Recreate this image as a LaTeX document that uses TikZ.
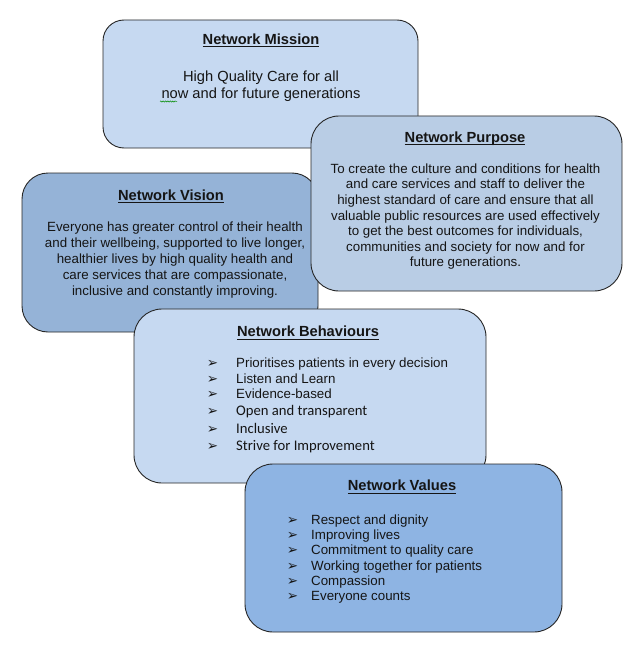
\documentclass[tikz,border=0pt]{standalone}
\usepackage{fontspec}
\setmainfont{Liberation Sans}
\newfontfamily\calibrifont{Carlito}
\newfontfamily\symfont{DejaVu Sans}
\usetikzlibrary{decorations.pathmorphing}
\newsavebox{\hulbox}
\newcommand{\hul}[1]{\sbox{\hulbox}{#1}\rlap{\rule[-2.9pt]{\wd\hulbox}{1.1pt}}\usebox{\hulbox}}
\definecolor{cMission}{HTML}{C6D9F1}
\definecolor{cPurpose}{HTML}{B9CDE5}
\definecolor{cVision}{HTML}{95B3D7}
\definecolor{cBehav}{HTML}{C6D9F1}
\definecolor{cValues}{HTML}{8EB4E3}
\definecolor{cText}{HTML}{151515}
\newcommand{\bul}{{\symfont\fontsize{13.5}{13.5}\selectfont ➢}}
\begin{document}
\begin{tikzpicture}[x=1pt,y=-1pt,
  card/.style={draw=black!85, line width=0.9pt, rectangle, inner sep=0pt},
  head/.style={anchor=base, inner sep=0pt, text=cText, font=\fontsize{14.67}{17}\selectfont\bfseries},
  bodytext/.style={anchor=base, inner sep=0pt, align=center, text=cText},
  item/.style={anchor=base west, inner sep=0pt, text=cText, font=\fontsize{13.33}{15.5}\selectfont},
  citem/.style={anchor=base west, inner sep=0pt, text=cText, font=\calibrifont\fontsize{14.67}{17.8}\selectfont},
  spell/.style={draw=green!55!black, line width=0.5pt, decorate, decoration={snake, amplitude=0.6pt, segment length=2.4pt}}
]
\fill[white] (0,0) rectangle (643,650);
\useasboundingbox (0,0) rectangle (643,650);

% boxes
\node[card, fill=cMission, minimum width=315pt, minimum height=128pt, rounded corners=21pt] (mission) at (260.5,84) {};
\node[card, fill=cVision, minimum width=296pt, minimum height=159pt, rounded corners=26pt] (vision) at (170,252.5) {};
\node[card, fill=cPurpose, minimum width=311pt, minimum height=175pt, rounded corners=28pt] (purpose) at (466.5,203.5) {};
\node[card, fill=cBehav, minimum width=352pt, minimum height=174pt, rounded corners=28pt] (behav) at (310,396) {};
\node[card, fill=cValues, minimum width=317pt, minimum height=168pt, rounded corners=28pt] (values) at (403.5,548) {};

% headings
\node[head] (missionT) at (261,44.5) {\hul{Network Mission}};
\node[head] (purposeT) at (465,142.3) {\hul{Network Purpose}};
\node[head] (visionT) at (171,200) {\hul{Network Vision}};
\node[head] (behavT) at (308,336.7) {\hul{Network Behaviours}};
\node[head] (valuesT) at (402,490.7) {\hul{Network Values}};

% bodies (anchor base = baseline of the last line)
\node[bodytext, font=\fontsize{14.67}{17}\selectfont] (missionB) at (261,98.5)
  {High Quality Care for all\\now and for future generations};
\draw[spell] (160,101.5) -- (177,101.5);

\node[bodytext, font=\fontsize{13.33}{15.6}\selectfont] (purposeB) at (465.5,266.9)
  {To create the culture and conditions for health\\
   and care services and staff to deliver the\\
   highest standard of care and ensure that all\\
   valuable public resources are used effectively\\
   to get the best outcomes for individuals,\\
   communities and society for now and for\\
   future generations.};

\node[bodytext, font=\fontsize{13.33}{16}\selectfont] (visionB) at (175,295.7)
  {Everyone has greater control of their health\\
   and their wellbeing, supported to live longer,\\
   healthier lives by high quality health and\\
   care services that are compassionate,\\
   inclusive and constantly improving.};

% behaviours list
\foreach \yy/\tt [count=\i] in {367.7/Prioritises patients in every decision,
    383.3/Listen and Learn, 398.5/Evidence-based}
  \node[item] (ba\i) at (236,\yy) {\llap{\bul\hspace{18pt}}\tt};
\foreach \yy/\tt [count=\i] in {415/Open and transparent,
    433/Inclusive, 450.7/Strive for Improvement}
  \node[citem] (bc\i) at (236,\yy) {\llap{\bul\hspace{18pt}}\tt};

% values list
\foreach \yy/\tt [count=\i] in {524/Respect and dignity, 539/Improving lives,
    554.3/Commitment to quality care, 570/Working together for patients,
    585/Compassion, 600.7/Everyone counts}
  \node[item] (va\i) at (311,\yy) {\llap{\bul\hspace{13pt}}\tt};
\end{tikzpicture}
\end{document}
